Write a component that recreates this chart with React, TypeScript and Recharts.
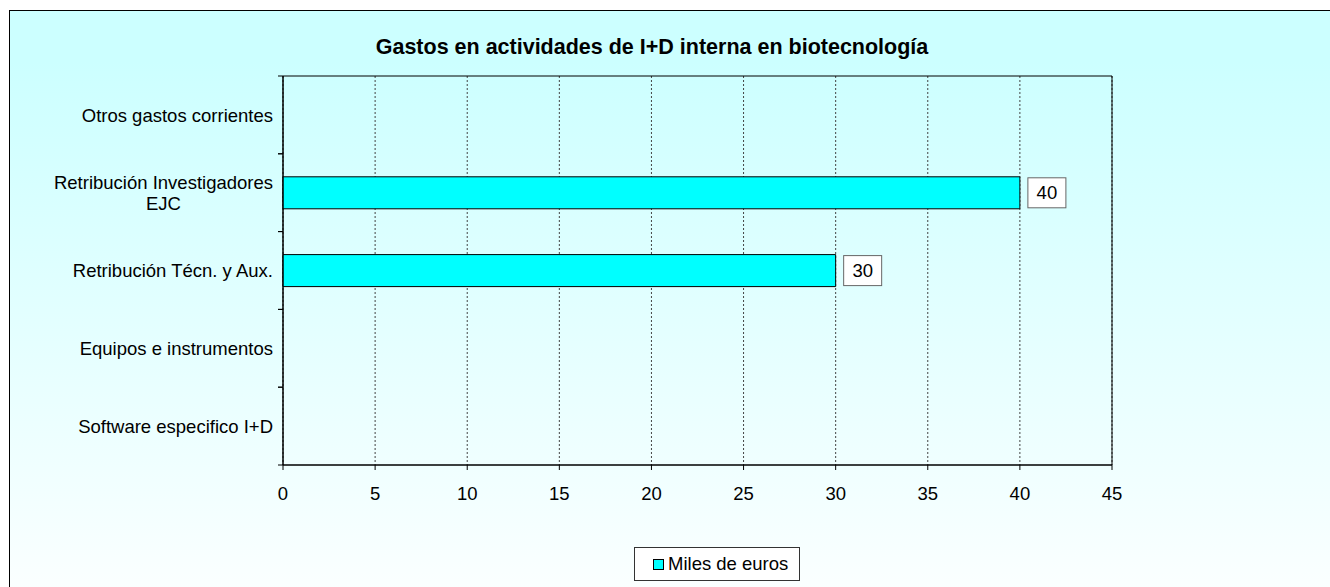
import React from "react";
import { BarChart, Bar, XAxis, YAxis, CartesianGrid, ReferenceArea, LabelList } from "recharts";

const categories = [
  "Otros gastos corrientes",
  "Retribución Investigadores EJC",
  "Retribución Técn. y Aux.",
  "Equipos e instrumentos",
  "Software especifico I+D",
];
const values: (number | null)[] = [null, 40, 30, null, null];
const xTicks = [0, 5, 10, 15, 20, 25, 30, 35, 40, 45];
const seriesName = "Miles de euros";
const title = "Gastos en actividades de I+D interna en biotecnología";

const data = categories.map((name, i) => ({ name, value: values[i] }));

const FONT = "'Liberation Sans', Arial, sans-serif";
const FS = 18.5;
const W = 1330;
const H = 587;
const PLOT_LEFT = 283;
const PLOT_TOP = 76;
const PLOT_RIGHT = 1112;
const PLOT_BOTTOM = 465;
const BAND = (PLOT_BOTTOM - PLOT_TOP) / categories.length;
// width of "Retribución Investigadores", used to centre the wrapped line under it
const WRAP_W = 219;

function wrap(label: string): string[] {
  if (label.length <= 26) return [label];
  const cut = label.lastIndexOf(" ");
  return [label.slice(0, cut), label.slice(cut + 1)];
}

const CategoryTick = (props: any) => {
  const { y, payload } = props;
  const lines = wrap(payload.value);
  const lh = 21;
  const y0 = y - ((lines.length - 1) * lh) / 2;
  const tx = PLOT_LEFT - 10;
  return (
    <g>
      {lines.map((ln, i) => (
        <text
          key={i}
          x={lines.length > 1 ? tx - WRAP_W / 2 : tx}
          y={y0 + i * lh}
          dy="0.36em"
          textAnchor={lines.length > 1 ? "middle" : "end"}
          fontSize={FS}
          fontFamily={FONT}
          fill="#000"
        >
          {ln}
        </text>
      ))}
      <line x1={PLOT_LEFT - 5} x2={PLOT_LEFT} y1={y - BAND / 2} y2={y - BAND / 2} stroke="#000" />
      <line x1={PLOT_LEFT - 5} x2={PLOT_LEFT} y1={y + BAND / 2} y2={y + BAND / 2} stroke="#000" />
    </g>
  );
};

const ValueBox = (props: any) => {
  const { x, y, width, height, value } = props;
  if (value == null || value === 0) return null;
  const bx = x + width + 8;
  const cy = y + height / 2;
  return (
    <g>
      <rect x={bx} y={cy - 15} width={38} height={30} fill="#fff" stroke="#666" />
      <text x={bx + 19} y={cy} dy="0.36em" textAnchor="middle" fontSize={FS} fontFamily={FONT} fill="#000">
        {value}
      </text>
    </g>
  );
};

export default function App() {
  return (
    <div style={{ position: "fixed", left: 0, top: 0, width: W, height: H, overflow: "hidden", background: "#fff", fontFamily: FONT }}>
      <div
        style={{
          position: "absolute",
          left: 9,
          top: 10,
          width: W + 40,
          height: H + 40,
          borderLeft: "1.5px solid #000",
          borderTop: "1.5px solid #000",
          background: "linear-gradient(to bottom, #CCFFFF 0%, #CCFFFF 8%, #FFFFFF 100%)",
        }}
      />
      <div
        style={{
          position: "absolute",
          left: 0,
          top: 35,
          width: 1304,
          textAlign: "center",
          fontSize: 21.5,
          fontWeight: "bold",
          color: "#000",
        }}
      >
        {title}
      </div>
      <div style={{ position: "absolute", left: 0, top: 0 }}>
        <BarChart
          width={W}
          height={H}
          data={data}
          layout="vertical"
          margin={{ top: PLOT_TOP, right: W - PLOT_RIGHT, bottom: H - PLOT_BOTTOM - 40, left: 0 }}
          barSize={32}
        >
          <CartesianGrid horizontal={false} vertical={true} stroke="#444" strokeDasharray="2 2" />
          <XAxis
            type="number"
            domain={[0, 45]}
            ticks={xTicks}
            height={40}
            tickSize={5}
            tickMargin={17}
            axisLine={{ stroke: "#000" }}
            tickLine={{ stroke: "#000" }}
            tick={{ fontSize: FS, fontFamily: FONT, fill: "#000" }}
            interval={0}
          />
          <YAxis
            type="category"
            dataKey="name"
            width={PLOT_LEFT}
            axisLine={{ stroke: "#000" }}
            tickLine={false}
            tick={<CategoryTick />}
            interval={0}
          />
          <ReferenceArea x1={0} x2={45} fill="none" stroke="#000" strokeOpacity={1} fillOpacity={0} ifOverflow="visible" />
          <Bar dataKey="value" name={seriesName} fill="#00FFFF" stroke="#000" strokeWidth={1} isAnimationActive={false}>
            <LabelList dataKey="value" content={<ValueBox />} />
          </Bar>
        </BarChart>
      </div>
      <div
        style={{
          position: "absolute",
          left: 634,
          top: 547,
          width: 164,
          height: 32,
          border: "1px solid #333",
          background: "#fff",
          display: "flex",
          alignItems: "center",
          boxSizing: "content-box",
        }}
      >
        <span style={{ display: "inline-block", width: 9, height: 9, background: "#00FFFF", border: "1px solid #000", marginLeft: 18, marginRight: 4 }} />
        <span style={{ fontSize: FS, color: "#000" }}>{seriesName}</span>
      </div>
    </div>
  );
}
